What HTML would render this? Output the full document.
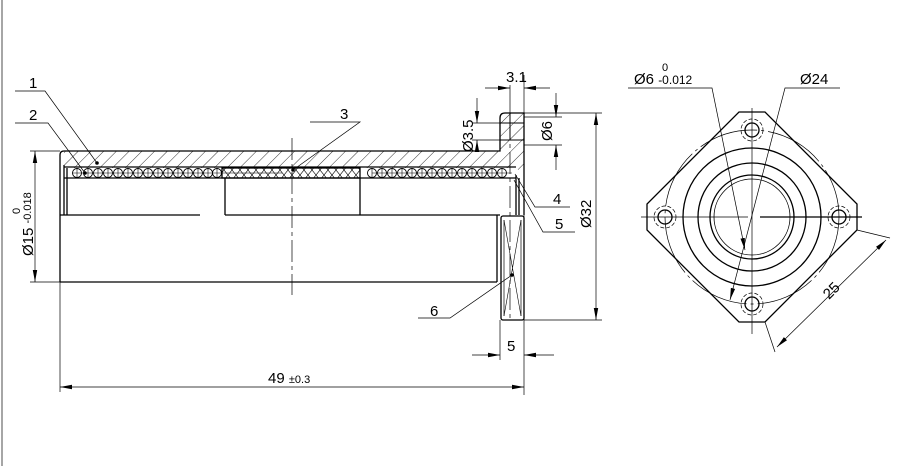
<!DOCTYPE html>
<html><head><style>
html,body{margin:0;padding:0;background:#fff;}
svg{display:block;font-family:"Liberation Sans",sans-serif;}
</style></head><body>
<svg width="900" height="466" viewBox="0 0 900 466" xmlns="http://www.w3.org/2000/svg">
<defs>
<pattern id="h" patternUnits="userSpaceOnUse" width="9" height="9" patternTransform="rotate(45)"><line x1="0" y1="0" x2="0" y2="9" stroke="#000" stroke-width="0.8"/></pattern>
<pattern id="x" patternUnits="userSpaceOnUse" width="8" height="10"><path d="M0,0 L8,10 M8,0 L0,10" stroke="#000" stroke-width="0.6"/></pattern>
<marker id="a" markerWidth="12" markerHeight="6" refX="12" refY="3" orient="auto" markerUnits="userSpaceOnUse"><path d="M0,0.8 L12,3 L0,5.2z" fill="#000"/></marker>
<marker id="s" markerWidth="12" markerHeight="6" refX="0" refY="3" orient="auto" markerUnits="userSpaceOnUse"><path d="M12,0.8 L0,3 L12,5.2z" fill="#000"/></marker>
</defs>
<line x1="2" y1="0" x2="2" y2="466" stroke="#888" stroke-width="1.5"/>
<g stroke="#000" fill="none" stroke-width="1.3">
<path d="M64,151 L520,151 L524,147 L524,175 L516,168 L64,168 Z" fill="url(#h)" stroke="none"/>
<path d="M60,155 Q60,151 64,151 L500,151 L500,128 L500,118 Q500,113 505,113 L524,113 L524,215"/>
<line x1="64" y1="167" x2="516" y2="167"/>
<path d="M500,113 L524,113 L524,151 L500,151 Z" fill="url(#h)" stroke="none"/>
<line x1="500" y1="123" x2="524" y2="123" stroke-width="1"/>
<line x1="500" y1="140" x2="524" y2="140" stroke-width="1"/>
<line x1="510" y1="113" x2="510" y2="140" stroke-width="1"/>
<rect x="222" y="168" width="138" height="10" fill="url(#x)"/>
<line x1="64" y1="178" x2="516" y2="178"/>
<line x1="60" y1="155" x2="60" y2="282"/>
<line x1="64" y1="165" x2="64" y2="215"/>
<line x1="67" y1="168" x2="67" y2="215"/>
<line x1="225" y1="178" x2="225" y2="215"/>
<line x1="360" y1="178" x2="360" y2="215"/>
<line x1="516" y1="175" x2="516" y2="215"/>
<line x1="519" y1="178" x2="519" y2="215"/>
<line x1="60" y1="215" x2="200" y2="215"/>
<line x1="225" y1="215" x2="500" y2="215"/>
<line x1="60" y1="282" x2="497" y2="282"/>
<line x1="497" y1="215" x2="497" y2="282"/>
<rect x="501" y="216" width="23" height="104" rx="2"/>
<path d="M504,220 L521,316 M521,220 L504,316" stroke-width="0.6"/>
<line x1="504" y1="220" x2="504" y2="316" stroke-width="0.7"/>
<line x1="521" y1="220" x2="521" y2="316" stroke-width="0.7"/>
</g>
<g stroke="#000" fill="#fff" stroke-width="0.9">
<circle cx="77" cy="173" r="4.5"/><circle cx="88" cy="173" r="4.5"/><circle cx="98" cy="173" r="4.5"/><circle cx="108" cy="173" r="4.5"/><circle cx="118" cy="173" r="4.5"/><circle cx="128" cy="173" r="4.5"/><circle cx="138" cy="173" r="4.5"/><circle cx="148" cy="173" r="4.5"/><circle cx="158" cy="173" r="4.5"/><circle cx="168" cy="173" r="4.5"/><circle cx="178" cy="173" r="4.5"/><circle cx="188" cy="173" r="4.5"/><circle cx="198" cy="173" r="4.5"/><circle cx="208" cy="173" r="4.5"/><circle cx="217" cy="173" r="4.5"/>
<circle cx="372" cy="173" r="4.5"/><circle cx="382" cy="173" r="4.5"/><circle cx="392" cy="173" r="4.5"/><circle cx="402" cy="173" r="4.5"/><circle cx="412" cy="173" r="4.5"/><circle cx="422" cy="173" r="4.5"/><circle cx="432" cy="173" r="4.5"/><circle cx="442" cy="173" r="4.5"/><circle cx="452" cy="173" r="4.5"/><circle cx="462" cy="173" r="4.5"/><circle cx="472" cy="173" r="4.5"/><circle cx="482" cy="173" r="4.5"/><circle cx="492" cy="173" r="4.5"/><circle cx="502" cy="173" r="4.5"/>
</g>
<g stroke="#000" stroke-width="0.6">
<path d="M72,173h210M372,173h140M77,168v10M88,168v10M98,168v10M108,168v10M118,168v10M128,168v10M138,168v10M148,168v10M158,168v10M168,168v10M178,168v10M188,168v10M198,168v10M208,168v10M217,168v10M372,168v10M382,168v10M392,168v10M402,168v10M412,168v10M422,168v10M432,168v10M442,168v10M452,168v10M462,168v10M472,168v10M482,168v10M492,168v10M502,168v10"/>
</g>
<g stroke="#000" stroke-width="0.7" stroke-dasharray="22,4,4,4">
<line x1="292" y1="138" x2="292" y2="295"/>
<line x1="510" y1="118" x2="510" y2="318"/>
</g>
<g stroke="#000" stroke-width="0.7" fill="none">
<line x1="30" y1="151" x2="60" y2="151"/><line x1="30" y1="282" x2="60" y2="282"/>
<line x1="35" y1="151" x2="35" y2="282" marker-start="url(#s)" marker-end="url(#a)"/>
<line x1="524" y1="113" x2="602" y2="113"/><line x1="524" y1="320" x2="602" y2="320"/>
<line x1="596" y1="113" x2="596" y2="320" marker-start="url(#s)" marker-end="url(#a)"/>
<line x1="524" y1="75" x2="524" y2="395"/>
<line x1="60" y1="282" x2="60" y2="392"/>
<line x1="60" y1="387" x2="524" y2="387" marker-start="url(#s)" marker-end="url(#a)"/>
<line x1="500" y1="320" x2="500" y2="360"/>
<line x1="472" y1="355" x2="500" y2="355" marker-end="url(#a)"/>
<line x1="554" y1="355" x2="524" y2="355" marker-end="url(#a)"/>
<line x1="510" y1="85" x2="510" y2="113"/>
<line x1="485" y1="88" x2="510" y2="88" marker-end="url(#a)"/>
<line x1="550" y1="88" x2="524" y2="88" marker-end="url(#a)"/>
<line x1="472" y1="123" x2="500" y2="123"/><line x1="472" y1="140" x2="500" y2="140"/>
<line x1="477" y1="98" x2="477" y2="123" marker-end="url(#a)"/>
<line x1="477" y1="152" x2="477" y2="140" marker-end="url(#a)"/>
<line x1="524" y1="117" x2="562" y2="117"/><line x1="524" y1="145" x2="562" y2="145"/>
<line x1="556" y1="93" x2="556" y2="117" marker-end="url(#a)"/>
<line x1="556" y1="170" x2="556" y2="145" marker-end="url(#a)"/>
<polyline points="15,91 45,91 97,163"/>
<polyline points="15,123 48,123 85,173"/>
<polyline points="310,122 360,122 293,170"/>
<polyline points="570,207 535,207 515,174"/>
<polyline points="575,232 543,232 514,180"/>
<polyline points="418,318 450,318 512,275"/>
</g>
<g fill="#000"><circle cx="97" cy="163" r="1.8"/><circle cx="85" cy="173" r="1.8"/><circle cx="293" cy="170" r="1.8"/><circle cx="512" cy="275" r="1.8"/></g>
<g font-size="15" fill="#000">
<text x="29" y="88">1</text><text x="29" y="120">2</text><text x="340" y="119">3</text>
<text x="553" y="204">4</text><text x="555" y="229">5</text><text x="430" y="316">6</text>
<text x="506" y="82">3.1</text><text x="507" y="351">5</text>
<text x="268" y="383">49 <tspan font-size="11">±0.3</tspan></text>
<text transform="translate(33,256) rotate(-90)">Ø15 <tspan font-size="11" dy="-2">-0.018</tspan></text>
<text transform="translate(20,214) rotate(-90)" font-size="11">0</text>
<text transform="translate(591,228) rotate(-90)">Ø32</text>
<text transform="translate(473,152) rotate(-90)">Ø3.5</text>
<text transform="translate(552,141) rotate(-90)">Ø6</text>
<text transform="translate(829,300) rotate(-45)">25</text>
<text x="634" y="84">Ø6 <tspan font-size="12">-0.012</tspan></text>
<text x="662" y="71" font-size="11">0</text>
<text x="800" y="84">Ø24</text>
</g>
<g stroke="#000" fill="none" stroke-width="1.3">
<polygon points="739,112 765,112 857,204 857,230 765,322 739,322 647,230 647,204"/>
<circle cx="752" cy="217" r="69"/>
<circle cx="752" cy="217" r="54"/>
<circle cx="752" cy="217" r="42"/>
<circle cx="752" cy="217" r="38" stroke-width="0.8"/>
<circle cx="752" cy="130" r="7"/><circle cx="665" cy="217" r="7"/><circle cx="839" cy="217" r="7"/><circle cx="752" cy="304" r="7"/>
</g>
<g stroke="#000" fill="none" stroke-width="0.7">
<circle cx="752" cy="217" r="87" stroke-dasharray="60,4,3,4"/>
<g stroke-dasharray="4,2"><circle cx="752" cy="130" r="11"/><circle cx="665" cy="217" r="11"/><circle cx="839" cy="217" r="11"/><circle cx="752" cy="304" r="11"/></g>
<line x1="641" y1="217" x2="748" y2="217"/><line x1="760" y1="217" x2="862" y2="217" stroke-width="1.2"/>
<line x1="752" y1="108" x2="752" y2="334"/>
<line x1="857" y1="230" x2="890" y2="238"/><line x1="765" y1="322" x2="775" y2="352"/>
<line x1="886" y1="240" x2="777" y2="347" marker-start="url(#s)" marker-end="url(#a)"/>
<polyline points="628,88 712,88 745,250" marker-end="url(#a)"/>
<polyline points="840,88 785,88 730,300" marker-end="url(#a)"/>
</g>
</svg>
</body></html>
